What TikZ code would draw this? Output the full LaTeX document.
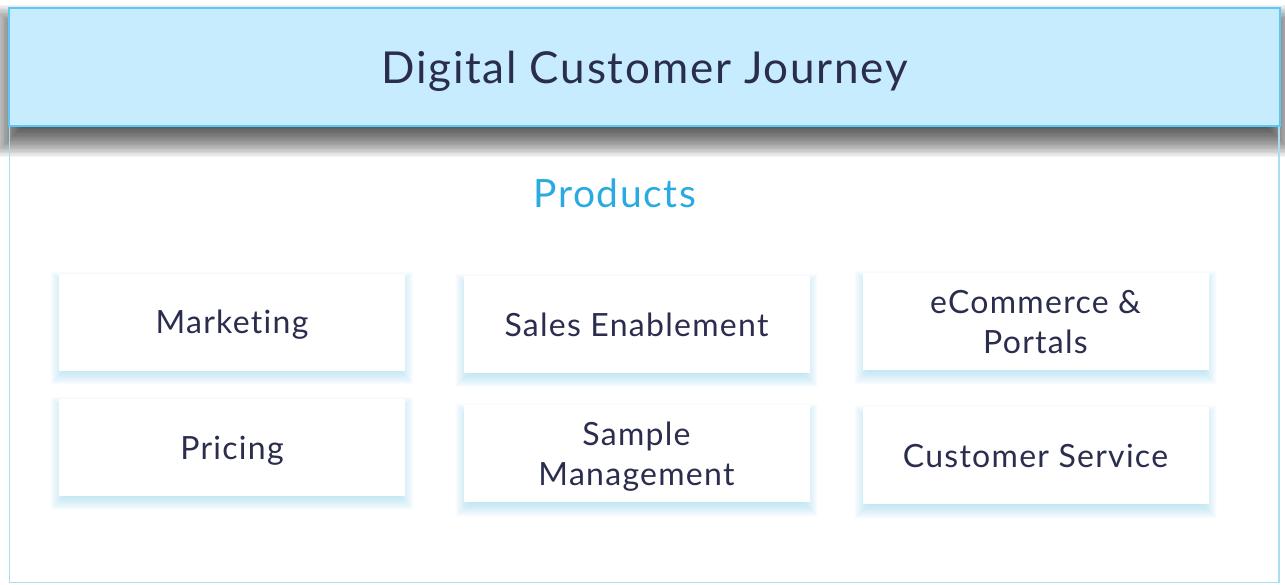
\documentclass[tikz,border=0pt]{standalone}
\usepackage{fontspec}
\setmainfont{Lato}[Ligatures=NoCommon, LetterSpace=4]
\usepackage{xcolor}
\usepackage{tikz}
\usetikzlibrary{positioning, calc}

\definecolor{headfill}{HTML}{C6ECFD}
\definecolor{headline}{HTML}{5BC8F5}
\definecolor{panelline}{HTML}{A9DDF0}
\definecolor{inktext}{HTML}{2B2D4F}
\definecolor{prodblue}{HTML}{29AAE1}
\definecolor{glowblue}{HTML}{7CC8E6}

\pgfdeclarelayer{background}
\pgfsetlayers{background,main}

% 模糊阴影: 节点, 颜色, 下移, 半径, 不透明度
\newcommand{\softshadow}[5]{%
	\foreach \k in {1,...,24}
	\fill[#2, fill opacity=#5] ($(#1.north west)+({-#4*(\k/12-1)}, {#3-#4*(\k/12-1)})$)
		rectangle ($(#1.south east)+({#4*(\k/12-1)}, {#3+#4*(\k/12-1)})$);
}

\begin{document}
\begin{tikzpicture}[x=1pt, y=-1pt]
	\useasboundingbox (0,0) rectangle (1285,584);

	% 样式
	\tikzset{
	header/.style = {draw=headline, line width=2pt, fill=headfill, minimum width=1271pt, minimum height=118pt,
		text depth=0pt, text=inktext, font=\fontsize{44}{50}\selectfont},
	card/.style = {fill=white, minimum width=346pt, minimum height=97pt, align=center,
		text depth=0pt, text=inktext, font=\fontsize{32}{40}\selectfont}
	}

	% 外框
	\draw[panelline, line width=1.5pt] (9.5,120) -- (9.5,582.5) -- (1279,582.5) -- (1279,120);

	% 标题
	\node[header] (title) at (644.5,67) {Digital Customer Journey};
	\node[text=prodblue, font=\fontsize{39}{44}\selectfont] (prod) at (615,193) {Products};

	% 卡片
	\node[card] (mkt) at (232,322) {Marketing};
	\node[card, below=28pt of mkt] (price) {Pricing};
	\node[card] (sales) at (636.5,324.5) {Sales Enablement};
	\node[card, below=32pt of sales] (sample) {Sample\\Management};
	\node[card] (ecom) at (1035.5,321.5) {eCommerce \&\\Portals};
	\node[card, below=37pt of ecom] (service) {Customer Service};

	% 阴影
	\begin{pgfonlayer}{background}
		\softshadow{title}{black}{14}{16}{0.045}
		\foreach \n in {mkt, price, sales, sample, ecom, service}
			{\softshadow{\n}{glowblue}{6}{8}{0.028}}
	\end{pgfonlayer}

\end{tikzpicture}
\end{document}
